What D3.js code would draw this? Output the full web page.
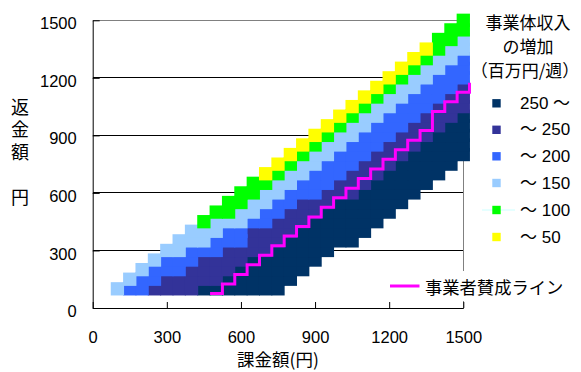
<!DOCTYPE html>
<html><head><meta charset="utf-8">
<script src="https://cdn.jsdelivr.net/npm/d3@7"></script>
<style>body{margin:0;background:#fff}svg{display:block}</style>
</head><body>
<svg id="chart" width="581" height="372"></svg>
<script>
// ---- data ----
// rows = 返金額 (refund, 円); each row starts on the diagonal (課金額 = 返金額)
const rowRefund = [100,150,200,250,300,350,400,450,500,550,600,650,700,750,800,850,900,950,1000,1050,1100,1150,1200,1250,1300,1350,1400,1450,1500];
// last 課金額 of every row
const rowLastCharge = [750,800,850,900,950,1050,1100,1150,1200,1250,1300,1350,1400,1450,1500,1500,1500,1500,1500,1500,1500,1500,1500,1500,1500,1500,1500,1500,1500];
// number of cells of each class along the row, starting at the diagonal (rest = 250～)
const nUpTo50  = [0,0,0,0,0,0,0,0,0,0,0,0,1,1,1,1,1,1,1,1,1,1,1,1,1,1,0,0,0];
const nUpTo100 = [0,0,0,0,0,0,0,1,2,2,2,2,1,1,1,1,1,1,1,1,1,1,1,1,1,1,2,2,1];
const nUpTo150 = [1,1,1,1,2,3,3,3,2,2,2,2,2,2,2,2,2,2,2,2,2,2,2,2,2,2,1,0,0];
const nUpTo200 = [2,2,3,3,3,3,2,2,2,2,3,3,3,3,3,3,3,3,3,3,3,3,3,2,1,0,0,0,0];
const nUpTo250 = [4,5,4,4,4,3,4,3,3,3,3,3,3,3,3,3,3,3,3,3,2,1,0,0,0,0,0,0,0];

const classNames  = ["250 ～","～ 250","～ 200","～ 150","～ 100","～ 50"];
const classColors = ["#003366","#333399","#3366FF","#99CCFF","#00FF00","#FFFF00"];

// 事業者賛成ライン (step line), one level per 課金額 column
const lineCharge = [500,550,600,650,700,750,800,850,900,950,1000,1050,1100,1150,1200,1250,1300,1350,1400,1450,1500];
const lineRefund = [75,125,175,225,275,325,375,425,475,525,575,625,675,725,775,825,875,925,1025,1075,1125];
const lineEndRefund = 1175;

const xTicks = [0,300,600,900,1200,1500];
const yTicks = [0,300,600,900,1200,1500];

// ---- drawing ----
const svg = d3.select("#chart");
const x = d3.scaleLinear().domain([0,1500]).range([92.7,463.3]);
const y = d3.scaleLinear().domain([0,1500]).range([308,20.3]);
const numFont = "'Liberation Sans', Arial, sans-serif";
const jpFont = "'Noto Sans CJK JP', sans-serif";

// gridlines
svg.append("g").selectAll("line").data(yTicks.filter(v => v > 0 && v < 1500)).join("line")
  .attr("x1", x(0)).attr("x2", x(1500)).attr("y1", d => y(d)).attr("y2", d => y(d))
  .attr("stroke", "#000").attr("stroke-width", 1).attr("shape-rendering","crispEdges");
// plot border top/right
svg.append("line").attr("x1", x(0)).attr("x2", x(1500)).attr("y1", y(1500)).attr("y2", y(1500))
  .attr("stroke", "#808080").attr("shape-rendering","crispEdges");
svg.append("line").attr("x1", x(1500)).attr("x2", x(1500)).attr("y1", y(1500)).attr("y2", y(0))
  .attr("stroke", "#808080").attr("shape-rendering","crispEdges");

// cells
const cells = [];
rowRefund.forEach((r, i) => {
  const counts = [nUpTo50[i], nUpTo100[i], nUpTo150[i], nUpTo200[i], nUpTo250[i]];
  let c = r;
  counts.forEach((n, k) => {
    for (let j = 0; j < n; j++) { cells.push({charge: c, refund: r, cls: 5 - k}); c += 50; }
  });
  while (c <= rowLastCharge[i]) { cells.push({charge: c, refund: r, cls: 0}); c += 50; }
});
cells.sort((a, b) => a.cls - b.cls);
const ms = 13.3;
svg.append("g").selectAll("rect").data(cells).join("rect")
  .attr("x", d => x(d.charge) - ms/2).attr("y", d => y(d.refund) - ms/2)
  .attr("width", ms).attr("height", ms)
  .attr("fill", d => classColors[d.cls]);

// step line
const pts = [];
lineCharge.forEach((c, i) => { pts.push([c - 25, lineRefund[i]]); pts.push([c + 25, lineRefund[i]]); });
pts.push([lineCharge[lineCharge.length-1] + 25, lineEndRefund]);
svg.append("path").datum(pts)
  .attr("d", d3.line().x(d => x(d[0])).y(d => y(d[1])))
  .attr("fill", "none").attr("stroke", "#FF00FF").attr("stroke-width", 3);

// axes
const fmt = d3.format("d");
const xAxis = svg.append("g").attr("transform", `translate(0,${y(0)})`)
  .call(d3.axisBottom(x).tickValues(xTicks).tickFormat(fmt).tickSize(-6).tickPadding(23.5).tickSizeOuter(0));
xAxis.select(".domain").attr("stroke", "#000");
xAxis.selectAll("text").attr("font-family", numFont).attr("font-size", 16.5).attr("fill", "#000");
const yAxis = svg.append("g").attr("transform", `translate(${x(0)},0)`)
  .call(d3.axisLeft(y).tickValues(yTicks).tickFormat(fmt).tickSize(-7).tickPadding(16).tickSizeOuter(0));
yAxis.select(".domain").attr("stroke", "#000");
yAxis.selectAll("text").attr("font-family", numFont).attr("font-size", 16.5).attr("fill", "#000").attr("dy", "0.52em");

// axis titles
svg.append("text").attr("x", 278).attr("y", 358).attr("text-anchor","middle").attr("dominant-baseline","central")
  .attr("font-family", jpFont).attr("font-size", 17.5).text("課金額(円)");
svg.append("text").attr("x", 20).attr("y", 98)
  .attr("writing-mode", "vertical-rl").style("letter-spacing", "4.5px")
  .attr("font-family", jpFont).attr("font-size", 18).text("返金額　円");

// legend (classes)
const legTitle = svg.append("text").attr("text-anchor","middle").attr("dominant-baseline","central")
  .attr("font-family", jpFont).attr("font-size", 17);
[["事業体収入",21,528],["の増加",45,528],["（百万円/週）",68.5,525]].forEach(([t, cy, cx]) => {
  legTitle.append("tspan").attr("x", cx).attr("y", cy).text(t);
});
const legY = [103.3,129.8,156.3,183,210,237];
svg.append("line").attr("x1", 482).attr("x2", 515).attr("y1", legY[4]).attr("y2", legY[4])
  .attr("stroke", "#CCFFFF").attr("stroke-width", 1);
classNames.forEach((nm, i) => {
  svg.append("rect").attr("x", 492.3).attr("y", legY[i] - 4.2).attr("width", 8.4).attr("height", 8.4)
    .attr("fill", classColors[i]);
  svg.append("text").attr("x", 520).attr("y", legY[i]).attr("dominant-baseline","central")
    .attr("font-family", numFont + ", 'Noto Sans CJK JP'").attr("font-size", 17).text(nm);
});

// legend (line)
svg.append("rect").attr("x", 384).attr("y", 271).attr("width", 190).attr("height", 30).attr("fill", "#fff");
svg.append("line").attr("x1", 390).attr("x2", 419.5).attr("y1", 286).attr("y2", 286)
  .attr("stroke", "#FF00FF").attr("stroke-width", 3);
svg.append("text").attr("x", 425).attr("y", 286.5).attr("dominant-baseline","central")
  .attr("font-family", jpFont).attr("font-size", 17.3).text("事業者賛成ライン");
</script>
</body></html>
